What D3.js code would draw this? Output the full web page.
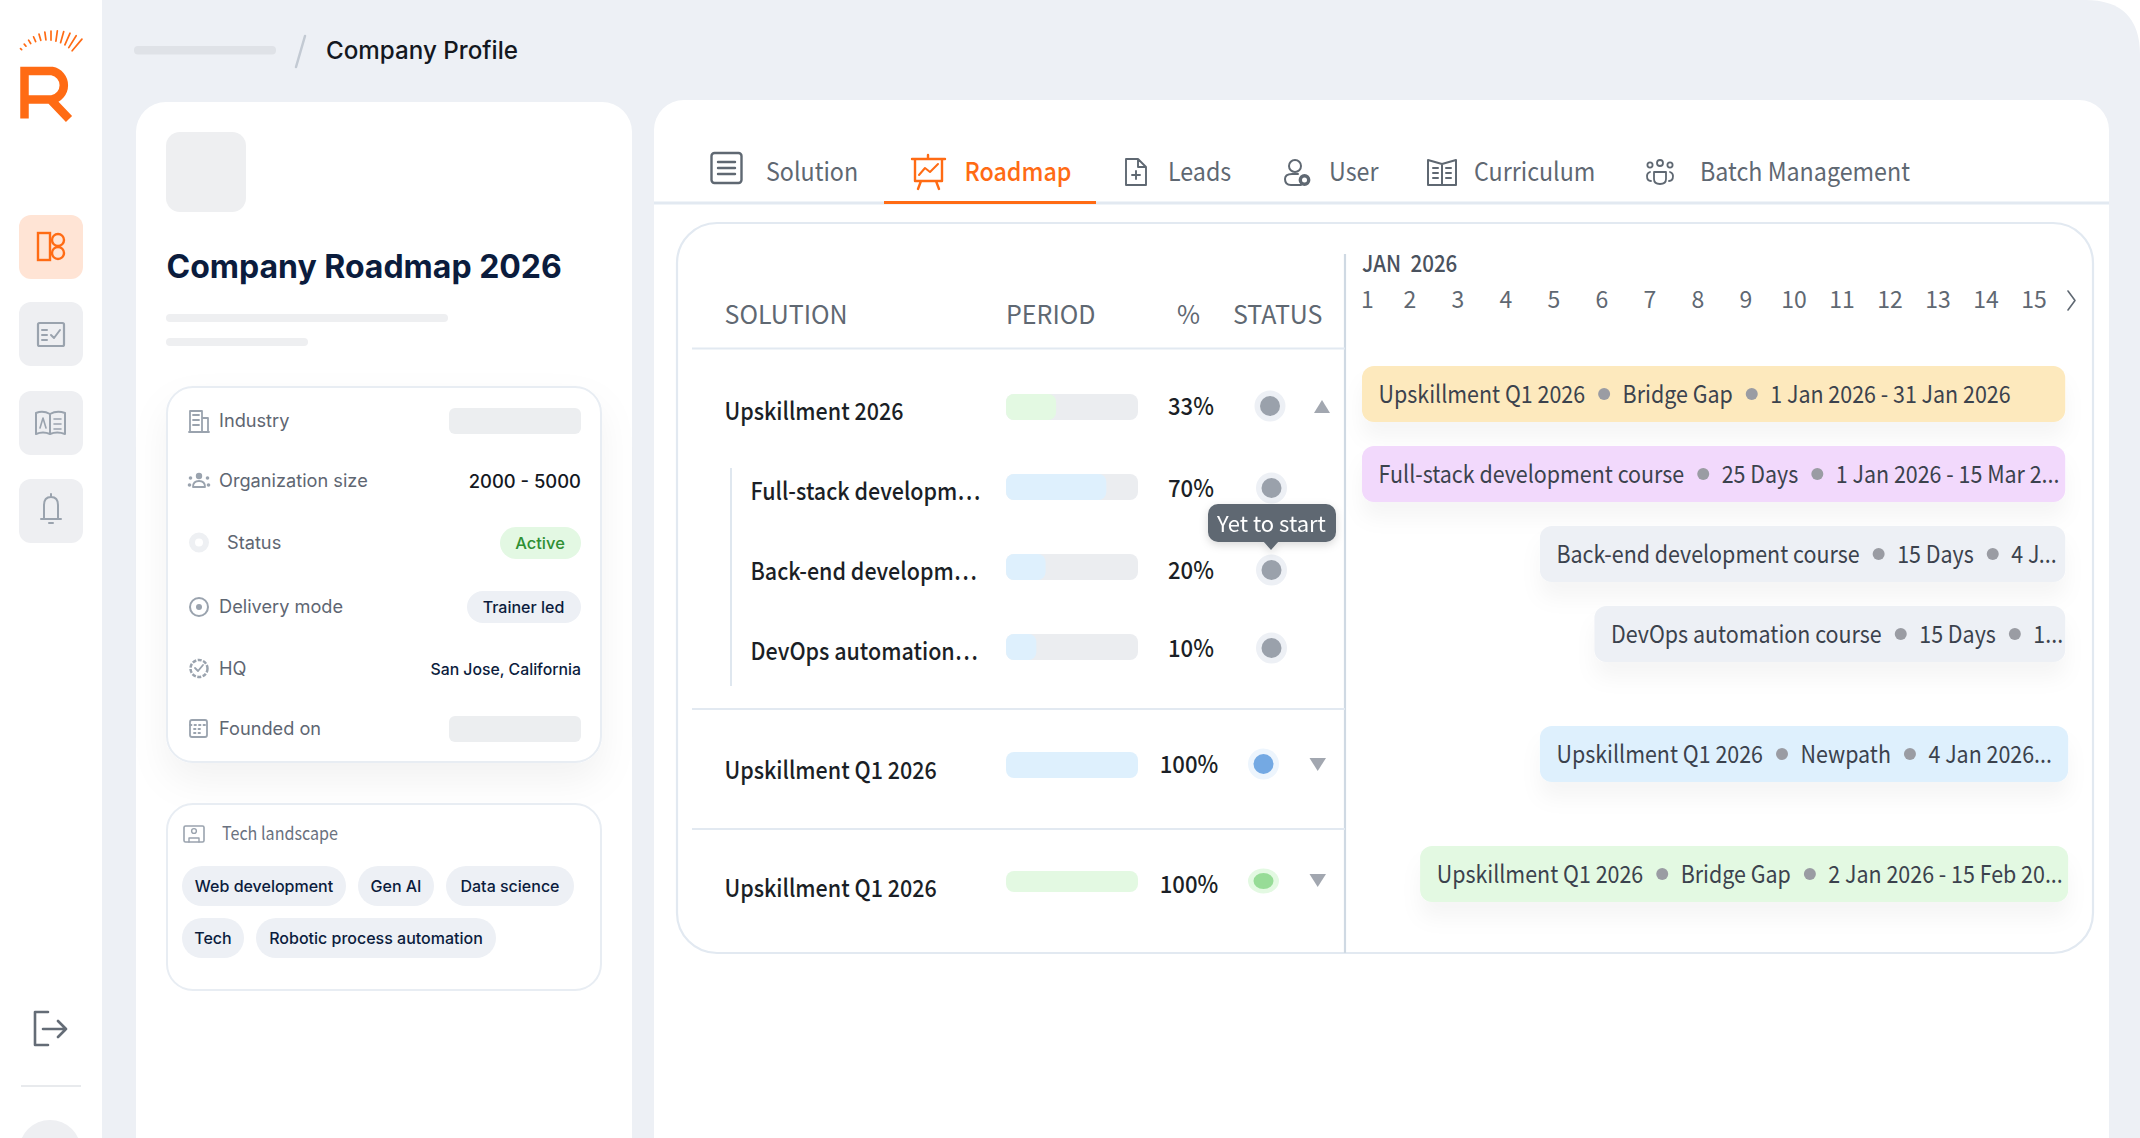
<!DOCTYPE html>
<html>
<head>
<meta charset="utf-8">
<title>Company Roadmap 2026</title>
<script src="https://cdn.jsdelivr.net/npm/d3@7/dist/d3.min.js"></script>
<style>
  html, body { margin: 0; padding: 0; background: #fff; overflow: hidden; }
  svg { display: block; }
</style>
</head>
<body>
<svg id="chart" width="2140" height="1138"></svg>
<script>
// Table rows
const solutions = ['Upskillment 2026', 'Full-stack developm…', 'Back-end developm…', 'DevOps automation…', 'Upskillment Q1 2026', 'Upskillment Q1 2026'];
const percentLabels = ['33%', '70%', '20%', '10%', '100%', '100%'];
// Visible fill of each period bar (they run longer than the label says)
const periodFill = [38, 76, 30, 23, 100, 100];
const statuses = ['grey', 'grey', 'grey', 'grey', 'blue', 'green'];
const headers = ['SOLUTION', 'PERIOD', '%', 'STATUS'];

// Timeline
const timelineMonth = 'JAN  2026';
const days = d3.range(1, 16);
const ganttStart = [1, 1, 4, 4.92, 4, 1.98];
const ganttEnd = [12.86, 12.86, 12.86, 12.86, 12.91, 12.91];
const ganttKinds = ['amber', 'purple', 'grey', 'grey', 'blue', 'green'];
const ganttText = [
  ['Upskillment Q1 2026', 'Bridge Gap', '1 Jan 2026 - 31 Jan 2026'],
  ['Full-stack development course', '25 Days', '1 Jan 2026 - 15 Mar 2...'],
  ['Back-end development course', '15 Days', '4 J...'],
  ['DevOps automation course', '15 Days', '1...'],
  ['Upskillment Q1 2026', 'Newpath', '4 Jan 2026...'],
  ['Upskillment Q1 2026', 'Bridge Gap', '2 Jan 2026 - 15 Feb 20...']
];

// Side card
const tabs = ['Solution', 'Roadmap', 'Leads', 'User', 'Curriculum', 'Batch Management'];
const profileLabels = ['Industry', 'Organization size', 'Status', 'Delivery mode', 'HQ', 'Founded on'];
const techTags = ['Web development', 'Gen AI', 'Data science', 'Tech', 'Robotic process automation'];

const ORANGE = '#ff6b14';
const INK = '#1b1f26';
const NAVY = '#0b1c3d';
const GREY = '#5f6872';
const ICON = '#9aa3ae';
const LINE = '#e2e9f1';
const INTER = 'Inter';
const SANS = '"Noto Sans CJK SC"';

const fills = { amber: '#fde9bd', purple: '#f2d9fc', grey: '#edf0f5', blue: '#def0fd', green: '#e3f9e2' };
const dotOuter = { grey: '#edf0f5', blue: '#edf5fd', green: '#e3f9e2' };
const dotInner = { grey: '#9aa1ab', blue: '#74a9e3', green: '#97dc97' };
const barFill = { 0: '#e3f9e2', 4: '#def0fd', 5: '#e3f9e2' };

const svg = d3.select('#chart');

const defs = svg.append('defs');
const shadow = (id, dy, blur, op) => {
  defs.append('filter').attr('id', id)
    .attr('x', '-20%').attr('y', '-50%').attr('width', '140%').attr('height', '300%')
    .append('feDropShadow')
    .attr('dx', 0).attr('dy', dy).attr('stdDeviation', blur)
    .attr('flood-color', '#000').attr('flood-opacity', op);
};
shadow('cardShadow', 18, 18, 0.05);
shadow('barShadow', 16, 10, 0.04);
shadow('tipShadow', 3, 4, 0.15);

// squeeze narrows the glyphs, the reference latin face is more condensed than the CJK one
const text = (g, x, y, str, o = {}) => {
  const t = g.append('text')
    .attr('x', x).attr('y', o.font === SANS ? y - 2 : y)
    .attr('dominant-baseline', 'central')
    .attr('text-anchor', o.anchor || 'start')
    .attr('font-family', o.font || INTER)
    .attr('font-size', o.size || 18)
    .attr('font-weight', o.weight || 400)
    .attr('fill', o.fill || INK)
    .text(str);
  if (o.squeeze) {
    t.attr('textLength', t.node().getComputedTextLength() * o.squeeze)
      .attr('lengthAdjust', 'spacingAndGlyphs');
  }
  return t;
};

const rect = (g, x, y, w, h, r, fill) => g.append('rect')
  .attr('x', x).attr('y', y).attr('width', w).attr('height', h)
  .attr('rx', r).attr('ry', r).attr('fill', fill);

const stroke = (g, d, color, w = 2) => g.append('path').attr('d', d)
  .attr('fill', 'none').attr('stroke', color).attr('stroke-width', w)
  .attr('stroke-linecap', 'round').attr('stroke-linejoin', 'round');

// Page background with the rounded window corner
svg.append('path').attr('fill', '#edf0f5')
  .attr('d', 'M102 0H2085Q2140 0 2140 55V1138H102Z');

// ---- Left rail ----
const rail = svg.append('g');
const rayAngles = d3.range(12).map(i => -48 + i * 8);
rayAngles.forEach((a, i) => {
  const t = a * Math.PI / 180;
  const outer = 41 + i * 0.65;
  const inner = outer - (1.5 + i * 1.25);
  rail.append('line')
    .attr('x1', 51 + Math.sin(t) * inner).attr('y1', 76 - Math.cos(t) * inner)
    .attr('x2', 51 + Math.sin(t) * outer).attr('y2', 76 - Math.cos(t) * outer)
    .attr('stroke', ORANGE).attr('stroke-width', 1.7).attr('stroke-linecap', 'round');
});
rail.append('path').attr('fill', 'none').attr('stroke', ORANGE).attr('stroke-width', 8.5)
  .attr('d', 'M24.5 118.5V71H52A14.5 14.5 0 0 1 52 99.5H24.5M49 98L69 119');

[215, 302, 391, 479].forEach((y, i) => {
  rect(rail, 19, y, 64, 64, 12, i === 0 ? '#ffe4d5' : '#eeeff2');
});
// rail icons
const r0 = rail.append('g').attr('fill', 'none').attr('stroke', ORANGE).attr('stroke-width', 2.4);
r0.append('rect').attr('x', 38).attr('y', 233).attr('width', 12).attr('height', 27);
r0.append('circle').attr('cx', 58).attr('cy', 240).attr('r', 6);
r0.append('circle').attr('cx', 58).attr('cy', 253).attr('r', 6);
rail.append('rect').attr('x', 38).attr('y', 323).attr('width', 26).attr('height', 23).attr('rx', 1.5)
  .attr('fill', 'none').attr('stroke', ICON).attr('stroke-width', 2.2);
stroke(rail, 'M42 330H47M42 335H47M42 340H47M51 335L54 338L60 330', ICON, 2);
stroke(rail, 'M36 413Q43 410 50 414V434Q43 431 36 434ZM50 414Q57 410 65 413V434Q57 431 50 434Z', ICON, 2);
stroke(rail, 'M54 419H61M54 424H61M54 429H61M40 428L43 418L46 428', ICON, 1.6);
stroke(rail, 'M41 519H61M44 518V505Q44 497 51 497Q58 497 58 505V518M51 497V494M49 523H53', ICON, 2);

stroke(rail, 'M48 1012H35V1045H48M43 1029H66M58 1021L66 1029L58 1037', '#646c76', 2.6);
rail.append('line').attr('x1', 21).attr('x2', 81).attr('y1', 1086).attr('y2', 1086)
  .attr('stroke', '#e8eaed').attr('stroke-width', 2);
rail.append('circle').attr('cx', 50).attr('cy', 1151).attr('r', 31).attr('fill', '#eeeff2');

// ---- Breadcrumb ----
rect(svg, 134, 46, 142, 8.5, 4, '#dfe2e7');
stroke(svg, 'M305 36L296 67', '#c3cad3', 2.5);
text(svg, 326, 50, 'Company Profile', { size: 24.2, weight: 500, fill: '#14181f' });

// ---- Profile card ----
const card = svg.append('g');
card.append('path').attr('fill', '#fff').attr('d', 'M136 1138V132A30 30 0 0 1 166 102H602A30 30 0 0 1 632 132V1138Z');
rect(card, 166, 132, 80, 80, 14, '#eeeff1');
text(card, 166.5, 266, 'Company Roadmap 2026', { size: 32, weight: 700, fill: NAVY });
rect(card, 166, 314, 282, 8, 4, '#eeeff1');
rect(card, 166, 338, 142, 8, 4, '#eeeff1');

rect(card, 167, 387, 434, 375, 26, '#fff')
  .attr('stroke', '#e8edf3').attr('stroke-width', 2).attr('filter', 'url(#cardShadow)');
const infoY = d3.scaleOrdinal(profileLabels, [420, 480, 541.5, 606, 667.5, 727.5]);
profileLabels.forEach(l => {
  text(card, l === 'Status' ? 227 : 219, infoY(l), l, { size: 18.2, fill: '#5e6672' });
});
// placeholder values and pills
rect(card, 449, 408, 132, 26, 6, '#eceef0');
rect(card, 449, 716, 132, 26, 6, '#eceef0');
text(card, 581, 480.5, '2000 - 5000', { size: 18.4, weight: 500, anchor: 'end', fill: '#14181f' });
rect(card, 500, 527, 81, 32, 16, '#e3f8e3');
text(card, 540, 543, 'Active', { size: 16.5, weight: 500, anchor: 'middle', fill: '#2f8f33' });
rect(card, 467, 591, 114, 32, 16, '#edf0f5');
text(card, 523.5, 607, 'Trainer led', { size: 16, weight: 500, anchor: 'middle', fill: NAVY });
text(card, 581, 669, 'San Jose, California', { size: 15.8, weight: 500, anchor: 'end', fill: NAVY });
// row icons
const ic = card.append('g');
stroke(ic, 'M190 432V411H202V432M202 418H208V432M189 432H209M193 415H199M193 420H199M193 425H199', ICON, 1.8);
ic.append('circle').attr('cx', 199).attr('cy', 476).attr('r', 3.2).attr('fill', ICON);
stroke(ic, 'M193 487Q193 481 199 481Q205 481 205 487Z', ICON, 1.8);
[[190.5, 478], [207.5, 478], [189.5, 485], [208.5, 485]].forEach(([x, y]) => {
  ic.append('circle').attr('cx', x).attr('cy', y).attr('r', 1.8).attr('fill', ICON);
});
ic.append('circle').attr('cx', 199).attr('cy', 542.5).attr('r', 7).attr('fill', 'none').attr('stroke', '#eef0f3').attr('stroke-width', 6);
ic.append('circle').attr('cx', 199).attr('cy', 607).attr('r', 9).attr('fill', 'none').attr('stroke', ICON).attr('stroke-width', 2);
ic.append('circle').attr('cx', 199).attr('cy', 607).attr('r', 3).attr('fill', ICON);
ic.append('circle').attr('cx', 199).attr('cy', 668.5).attr('r', 8.5).attr('fill', 'none').attr('stroke', ICON).attr('stroke-width', 2.5).attr('stroke-dasharray', '4 1.5');
stroke(ic, 'M195 668L198 671L203 665', ICON, 1.8);
ic.append('rect').attr('x', 190).attr('y', 720).attr('width', 17).attr('height', 17).attr('rx', 2).attr('fill', 'none').attr('stroke', ICON).attr('stroke-width', 1.8);
stroke(ic, 'M190 725H207M194 729H203M194 733H203', ICON, 1.8).attr('stroke-dasharray', '1.5 3');

// Tech landscape
const tech = card.append('g');
rect(tech, 167, 804, 434, 186, 26, '#fff').attr('stroke', '#e8edf3').attr('stroke-width', 2);
tech.append('rect').attr('x', 184).attr('y', 826).attr('width', 20).attr('height', 16).attr('rx', 1.5).attr('fill', 'none').attr('stroke', ICON).attr('stroke-width', 1.6);
tech.append('circle').attr('cx', 194).attr('cy', 831).attr('r', 2.4).attr('fill', 'none').attr('stroke', ICON).attr('stroke-width', 1.4);
stroke(tech, 'M189 842V838H199V842', ICON, 1.4);
text(tech, 222, 834, 'Tech landscape', { size: 18, font: SANS, fill: '#6a7280', squeeze: 0.895 });
const tagBox = [[182, 866, 164], [358, 866, 76], [446, 866, 128], [182, 918, 62], [256, 918, 240]];
techTags.forEach((t, i) => {
  const [x, y, w] = tagBox[i];
  rect(tech, x, y, w, 40, 20, '#edf0f5');
  text(tech, x + w / 2, y + 20, t, { size: 16, weight: 500, anchor: 'middle', fill: NAVY });
});

// ---- Main card ----
const main = svg.append('g');
main.append('path').attr('fill', '#fff').attr('d', 'M654 1138V130A30 30 0 0 1 684 100H2079A30 30 0 0 1 2109 130V1138Z');

// Tabs
const tabX = [766, 964.5, 1168, 1329, 1474, 1700];
tabs.forEach((t, i) => {
  text(main, tabX[i], 171, t, {
    size: 25.5, font: SANS, weight: i === 1 ? 500 : 400,
    fill: i === 1 ? ORANGE : GREY, squeeze: 0.912
  });
});
main.append('line').attr('x1', 654).attr('x2', 2109).attr('y1', 203).attr('y2', 203)
  .attr('stroke', LINE).attr('stroke-width', 3);
rect(main, 884, 201, 212, 3, 0, ORANGE);
// tab icons
main.append('rect').attr('x', 711.5).attr('y', 153).attr('width', 30).attr('height', 30).attr('rx', 3)
  .attr('fill', 'none').attr('stroke', GREY).attr('stroke-width', 2.4);
stroke(main, 'M718 162H735M718 168H735M718 174H735', GREY, 2.4);
stroke(main, 'M912 159H945M915 159V181H942V159M928 159V155M921 181L918 189M936 181L939 189', ORANGE, 2.4);
stroke(main, 'M919 175L925 168L930 172L938 164', ORANGE, 2);
stroke(main, 'M1126 159H1138L1146 167V185H1126ZM1138 159V167H1146M1136 171V179M1132 175H1140', GREY, 1.9);
main.append('circle').attr('cx', 1295).attr('cy', 166).attr('r', 6).attr('fill', 'none').attr('stroke', GREY).attr('stroke-width', 2);
stroke(main, 'M1301 185H1291Q1285 185 1285 179Q1285 174 1292 174H1298', GREY, 2);
main.append('circle').attr('cx', 1304.5).attr('cy', 180).attr('r', 4.2).attr('fill', 'none').attr('stroke', GREY).attr('stroke-width', 3.4);
stroke(main, 'M1428 160L1442 164L1456 160V185H1428ZM1442 164V185M1433 168H1438M1433 173H1438M1433 178H1438M1446 168H1451M1446 173H1451M1446 178H1451', GREY, 2);
main.append('circle').attr('cx', 1660).attr('cy', 163).attr('r', 3).attr('fill', 'none').attr('stroke', GREY).attr('stroke-width', 1.8);
main.append('circle').attr('cx', 1650).attr('cy', 165).attr('r', 2.6).attr('fill', 'none').attr('stroke', GREY).attr('stroke-width', 1.8);
main.append('circle').attr('cx', 1670).attr('cy', 165).attr('r', 2.6).attr('fill', 'none').attr('stroke', GREY).attr('stroke-width', 1.8);
stroke(main, 'M1654 172H1666V179Q1666 184 1660 184Q1654 184 1654 179ZM1650 172Q1647 173 1647 176Q1647 181 1651 181M1670 172Q1673 173 1673 176Q1673 181 1669 181', GREY, 1.8);

// Roadmap frame
rect(main, 677, 223, 1416, 730, 40, 'none').attr('stroke', LINE).attr('stroke-width', 2.2);
main.append('line').attr('x1', 1345).attr('x2', 1345).attr('y1', 254).attr('y2', 953)
  .attr('stroke', '#cfd9e3').attr('stroke-width', 2.2);

// Table header
const headerX = [724.5, 1006, 1177, 1233];
headers.forEach((h, i) => text(main, headerX[i], 315, h, { size: 25, font: SANS, fill: GREY }));

[348.5, 709, 829].forEach(y => {
  main.append('line').attr('x1', 692).attr('x2', 1345).attr('y1', y).attr('y2', y)
    .attr('stroke', LINE).attr('stroke-width', 2.2);
});
main.append('line').attr('x1', 731).attr('x2', 731).attr('y1', 468).attr('y2', 686)
  .attr('stroke', '#dfe7ef').attr('stroke-width', 2);

// Vertical placement per row index, the rows are not evenly spaced
const idx = solutions.map((d, i) => i);
const labelY = d3.scaleLinear().domain([0, 3, 4, 5]).range([411, 651, 770, 888]);
const barY = d3.scaleLinear().domain([0, 3, 4, 5]).range([407, 647, 765, 881.5]);
const pctY = d3.scaleOrdinal(idx, [406, 488, 570, 648, 764, 884]);
const dotY = d3.scaleOrdinal(idx, [406, 488, 570, 648, 764, 881]);
const dotX = d3.scaleOrdinal(idx, [1270, 1271.5, 1271.5, 1271.5, 1263.5, 1263.5]);
const period = d3.scaleLinear().domain([0, 100]).range([0, 132]);

const rows = main.append('g');
idx.forEach(i => {
  const child = i > 0 && i < 4;
  text(rows, child ? 750.5 : 724.5, labelY(i), solutions[i], { size: 24, font: SANS, weight: 500, fill: INK, squeeze: 0.895 });

  const h = i === 5 ? 21 : 26;
  const y = barY(i) - h / 2;
  rect(rows, 1006, y, period(100), h, 8, i > 3 ? 'none' : '#ebedf0');
  rect(rows, 1006, y, period(periodFill[i]), h, 8, barFill[i] || '#def0fd');

  text(rows, i > 3 ? 1189 : 1191, pctY(i), percentLabels[i], { size: 24, font: SANS, weight: 500, anchor: 'middle', fill: INK, squeeze: 0.92 });

  // the last row is squashed along with its bar
  const ry = i === 5 ? 0.8 : 1;
  rows.append('ellipse').attr('cx', dotX(i)).attr('cy', dotY(i)).attr('rx', 15.5).attr('ry', 15.5 * ry).attr('fill', dotOuter[statuses[i]]);
  rows.append('ellipse').attr('cx', dotX(i)).attr('cy', dotY(i)).attr('rx', 10).attr('ry', 10 * ry).attr('fill', dotInner[statuses[i]]);
});
// expand arrows
main.append('path').attr('fill', '#a2a7b0').attr('d', 'M1322 400L1330 413H1314Z');
[764, 880].forEach(y => {
  main.append('path').attr('fill', '#a2a7b0').attr('d', `M1309.5 ${y - 6}H1326L1317.7 ${y + 7}Z`);
});

// Tooltip
const tip = main.append('g').attr('filter', 'url(#tipShadow)');
rect(tip, 1208, 504, 128, 38, 10, '#5f6872');
tip.append('path').attr('fill', '#5f6872').attr('d', 'M1263 541H1279L1271 550Z');
text(tip, 1271.5, 524, 'Yet to start', { size: 22, font: SANS, anchor: 'middle', fill: '#fff' });

// ---- Timeline ----
const tl = main.append('g');
text(tl, 1362, 264, timelineMonth, { size: 23, font: SANS, weight: 500, fill: '#4a525e', squeeze: 0.94 }).style('white-space', 'pre');
const dayX = d3.scaleLinear().domain([2, 15]).range([1410, 2034]);
days.forEach(d => {
  text(tl, d === 1 ? 1367.5 : dayX(d), 300, d, { size: 23, font: SANS, anchor: 'middle', fill: GREY });
});
stroke(tl, 'M2068 291L2075 300.5L2068 310', GREY, 1.6);

// Gantt bars, x runs in days from the timeline start
const ganttX = d3.scaleLinear().domain([1, 12.9]).range([1362, 2067.6]);
const ganttY = d3.scaleLinear().domain([0, 3, 5]).range([394, 634, 874]);
ganttText.forEach((parts, i) => {
  const x0 = ganttX(ganttStart[i]);
  const x1 = ganttX(ganttEnd[i]);
  const cy = ganttY(i);
  const g = tl.append('g');
  rect(g, x0, cy - 28, x1 - x0, 56, 12, fills[ganttKinds[i]]).attr('filter', 'url(#barShadow)');
  let cursor = x0 + 16.6;
  parts.forEach((p, k) => {
    const t = text(g, cursor, cy + 0.5, p, { size: 24, font: SANS, fill: '#3b424d', squeeze: 0.893 });
    cursor += +t.attr('textLength');
    if (k < parts.length - 1) {
      g.append('circle').attr('cx', cursor + 19).attr('cy', cy).attr('r', 6).attr('fill', '#9a9ca3');
      cursor += 37.5;
    }
  });
});
</script>
</body>
</html>
